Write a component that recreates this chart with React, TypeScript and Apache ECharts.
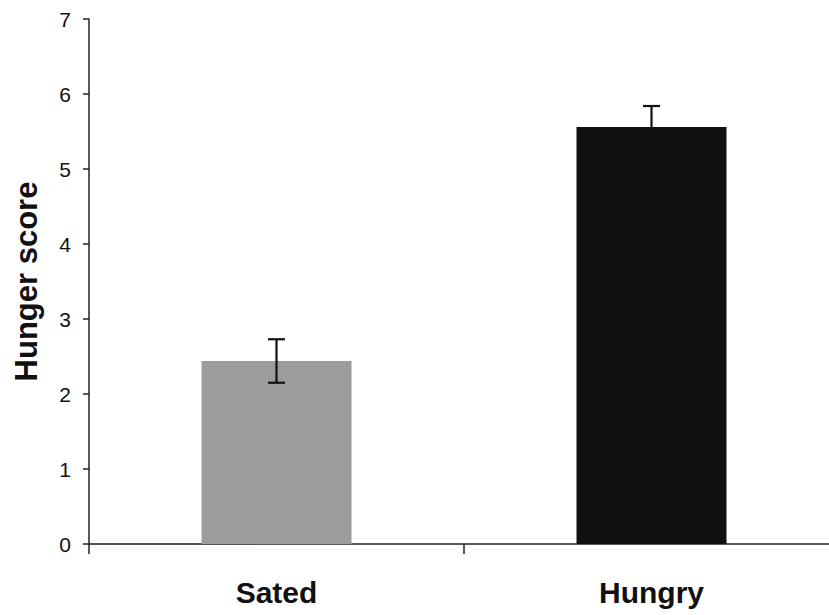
import React, { useEffect, useRef } from "react";
import * as echarts from "echarts";

const categories = ["Sated", "Hungry"];
const means = [2.44, 5.56];
const errors = [0.29, 0.28];
const barColors = ["#9c9c9c", "#111111"];
const yTicks = [0, 1, 2, 3, 4, 5, 6, 7];

export default function App() {
  const ref = useRef<HTMLDivElement>(null);
  useEffect(() => {
    if (!ref.current) return;
    const chart = echarts.init(ref.current, null, { renderer: "svg" });
    const font = "'Liberation Sans', Arial, Helvetica, sans-serif";
    chart.setOption({
      animation: false,
      backgroundColor: "#ffffff",
      grid: { left: 89, top: 19, width: 750, height: 525, containLabel: false },
      xAxis: {
        type: "category",
        data: categories,
        boundaryGap: true,
        axisLine: { lineStyle: { color: "#222", width: 1.5 } },
        axisTick: { show: true, alignWithLabel: false, length: 10, lineStyle: { color: "#222", width: 1.5 } },
        axisLabel: {
          margin: 33,
          fontSize: 30,
          fontWeight: "bold",
          color: "#111",
          fontFamily: font,
        },
      },
      yAxis: {
        type: "value",
        min: yTicks[0],
        max: yTicks[yTicks.length - 1],
        interval: 1,
        splitLine: { show: false },
        axisLine: { show: true, lineStyle: { color: "#222", width: 1.5 } },
        axisTick: { show: true, length: 6, lineStyle: { color: "#222", width: 1.5 } },
        axisLabel: { margin: 18, fontSize: 21, color: "#111", fontFamily: font },
        name: "Hunger score",
        nameLocation: "middle",
        nameGap: 47,
        nameTextStyle: { fontSize: 31, fontWeight: "bold", color: "#111", fontFamily: font },
      },
      series: [
        {
          type: "bar",
          barWidth: 150,
          data: means.map((v, i) => ({ value: v, itemStyle: { color: barColors[i] } })),
        },
        {
          type: "custom",
          z: 10,
          data: means.map((m, i) => [i, m - errors[i], m + errors[i]]),
          renderItem: (params: any, api: any) => {
            const x = api.value(0);
            const lo = api.coord([x, api.value(1)]);
            const hi = api.coord([x, api.value(2)]);
            const hw = 8.5;
            const style = { stroke: "#111", lineWidth: 2.2 };
            return {
              type: "group",
              children: [
                { type: "line", shape: { x1: hi[0], y1: hi[1], x2: lo[0], y2: lo[1] }, style },
                { type: "line", shape: { x1: hi[0] - hw, y1: hi[1], x2: hi[0] + hw, y2: hi[1] }, style },
                { type: "line", shape: { x1: lo[0] - hw, y1: lo[1], x2: lo[0] + hw, y2: lo[1] }, style },
              ],
            };
          },
        },
      ],
    });
    return () => chart.dispose();
  }, []);
  return (
    <div
      style={{ position: "absolute", left: 0, top: 0, width: 829, height: 615, overflow: "hidden", background: "#fff" }}
    >
      <div ref={ref} style={{ width: 850, height: 615 }} />
    </div>
  );
}
